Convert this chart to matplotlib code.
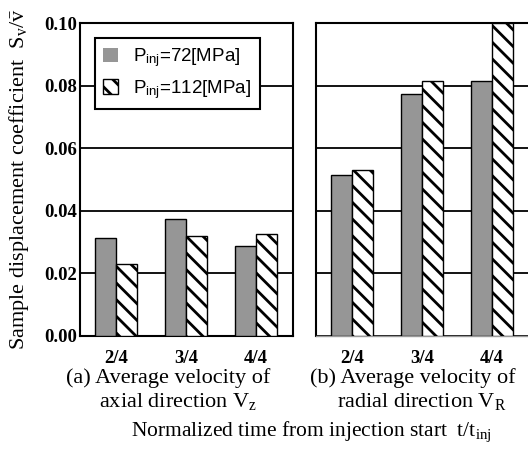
import numpy as np
import matplotlib
matplotlib.use('Agg')
import matplotlib.pyplot as plt
from matplotlib.patches import Patch

# sample displacement coefficient for each normalized time
times = ['2/4', '3/4', '4/4']
axial_72 = [0.0312, 0.0374, 0.0288]
axial_112 = [0.0230, 0.0320, 0.0326]
radial_72 = [0.0514, 0.0774, 0.0816]
radial_112 = [0.0529, 0.0815, 0.1000]
yticks = [0.00, 0.02, 0.04, 0.06, 0.08, 0.10]
labels = [r'P$_{\mathsf{inj}}$=72[MPa]', r'P$_{\mathsf{inj}}$=112[MPa]']

plt.rcParams['font.family'] = 'Liberation Serif'
plt.rcParams['mathtext.fontset'] = 'custom'
plt.rcParams['mathtext.rm'] = 'Liberation Serif'
plt.rcParams['mathtext.it'] = 'Liberation Serif:italic'
plt.rcParams['mathtext.sf'] = 'Liberation Sans'
plt.rcParams['hatch.linewidth'] = 2.0

gray = '#969696'
fig = plt.figure(figsize=(5.28, 4.58), dpi=100)
ax1 = fig.add_axes([80/528, 122/458, 213/528, 313/458])
ax2 = fig.add_axes([316/528, 122/458, 213/528, 313/458])

x = np.arange(len(times))
w = 0.3
for ax, a, b in [(ax1, axial_72, axial_112), (ax2, radial_72, radial_112)]:
    ax.bar(x - w/2, a, w, color=gray, edgecolor='black', linewidth=1.0, zorder=3)
    ax.bar(x + w/2, b, w, color='white', edgecolor='black', linewidth=1.0,
           hatch='\\\\', zorder=3)
    ax.set_xlim(-0.52, 2.53)
    ax.set_ylim(0, 0.10)
    ax.set_yticks(yticks)
    ax.set_xticks(x)
    ax.set_xticklabels(times, fontsize=13.5, fontweight='bold')
    ax.tick_params(length=0)
    ax.tick_params(axis='x', pad=10)
    ax.yaxis.grid(True, color='black', linewidth=1.3, zorder=0)
    ax.set_axisbelow(True)
    for s in ax.spines.values():
        s.set_linewidth(1.5)

ax1.set_yticklabels(['%.2f' % t for t in yticks], fontsize=13.5, fontweight='bold')
ax1.tick_params(axis='y', pad=2)
ax2.set_yticklabels([])
ax2.spines['right'].set_visible(False)
ax2.spines['bottom'].set_color('#999999')
ax2.spines['bottom'].set_linewidth(1.0)

handles = [Patch(facecolor=gray, edgecolor='none'),
           Patch(facecolor='white', edgecolor='black', hatch='\\\\')]
leg = ax1.legend(handles, labels, loc='upper left', bbox_to_anchor=(0.07, 0.952),
                 borderaxespad=0, fancybox=False, framealpha=1, edgecolor='black',
                 handlelength=0.8, handleheight=0.8, handletextpad=0.8,
                 prop={'family': 'Liberation Sans', 'size': 13.5},
                 borderpad=0.45, labelspacing=0.45)
leg.get_frame().set_linewidth(1.5)
leg.set_zorder(5)

ax1.set_ylabel(r'Sample displacement coefficient  $\mathrm{S_v}/\bar{\mathrm{v}}$',
               fontsize=16)
ax1.yaxis.set_label_coords(-49/213, 0.5)

fig.text(168/528, 1 - 378/458, '(a) Average velocity of', ha='center', va='center', fontsize=16)
fig.text(178/528, 1 - 402/458, r'axial direction V$_\mathrm{z}$', ha='center', va='center', fontsize=16)
fig.text(413/528, 1 - 378/458, '(b) Average velocity of', ha='center', va='center', fontsize=16)
fig.text(422/528, 1 - 402/458, r'radial direction V$_\mathrm{R}$', ha='center', va='center', fontsize=16)
fig.text(311/528, 1 - 432/458, r'Normalized time from injection start  t/t$_\mathrm{inj}$',
         ha='center', va='center', fontsize=15.5)

plt.savefig('out.png', dpi=100)
